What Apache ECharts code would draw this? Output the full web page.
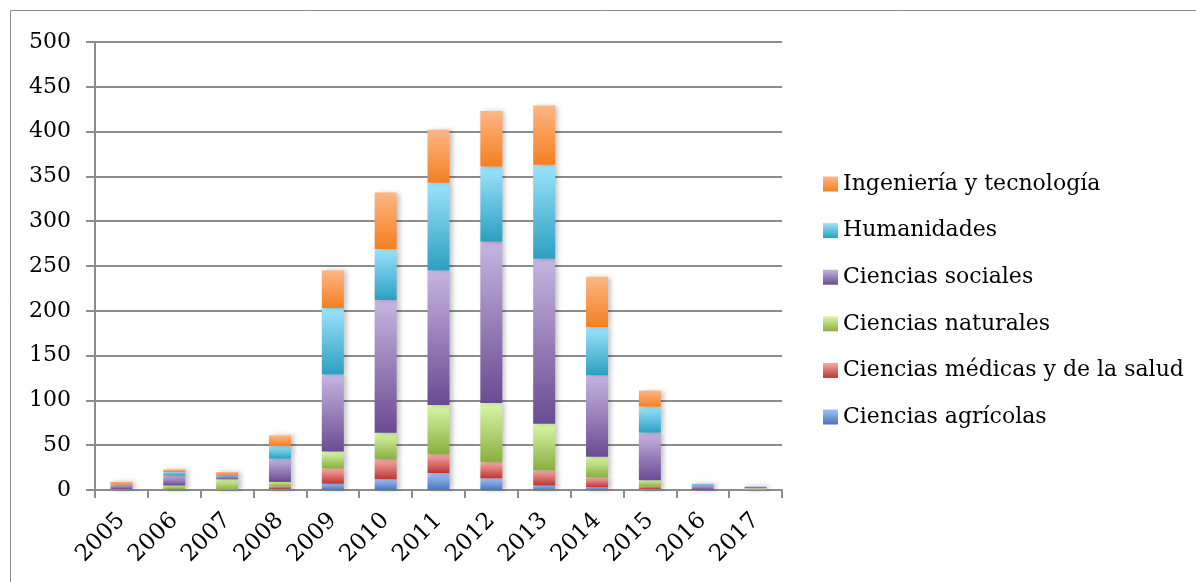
<!DOCTYPE html>
<html>
<head>
<meta charset="utf-8">
<script src="https://cdn.jsdelivr.net/npm/echarts@6/dist/echarts.min.js"></script>
<style>html,body{margin:0;padding:0;background:#fff}#c{width:1196px;height:582px}</style>
</head>
<body>
<div id="c"></div>
<script>
const years = ['2005','2006','2007','2008','2009','2010','2011','2012','2013','2014','2015','2016','2017'];
const agricolas  = [1, 0, 0, 1, 7, 12, 19, 13, 5, 3, 1, 0, 0];
const medicas    = [0, 1, 0, 3, 17, 22, 21, 18, 17, 11, 3, 0, 0];
const naturales  = [0, 4, 12, 5, 19, 30, 55, 66, 52, 23, 7, 0, 2];
const sociales   = [4, 11, 3, 26, 86, 148, 150, 180, 184, 91, 53, 5, 2];
const humanidades= [1, 4, 2, 14, 74, 57, 98, 84, 105, 54, 29, 2, 0];
const ingenieria = [3, 3, 3, 12, 42, 63, 59, 62, 66, 56, 18, 0, 0];
const yTicks = [0, 50, 100, 150, 200, 250, 300, 350, 400, 450, 500];

const FONT = 'DejaVu Serif';
function grad(top, bottom) {
  return new echarts.graphic.LinearGradient(0, 0, 0, 1, [
    {offset: 0, color: top}, {offset: 1, color: bottom}
  ]);
}
const palette = {
  'Ciencias agrícolas': ['#a3c0f5', '#4876bd'],
  'Ciencias médicas y de la salud': ['#f7aaa7', '#bb3633'],
  'Ciencias naturales': ['#daf7a8', '#88ae40'],
  'Ciencias sociales': ['#c6b5e0', '#6b4a92'],
  'Humanidades': ['#9ce3fc', '#2c9fc0'],
  'Ingeniería y tecnología': ['#fdb684', '#f47f22']
};
const seriesDefs = [
  ['Ciencias agrícolas', agricolas],
  ['Ciencias médicas y de la salud', medicas],
  ['Ciencias naturales', naturales],
  ['Ciencias sociales', sociales],
  ['Humanidades', humanidades],
  ['Ingeniería y tecnología', ingenieria]
];
const series = seriesDefs.map(([name, data]) => ({
  name, type: 'bar', stack: 'total', data, barWidth: 22,
  itemStyle: {
    color: grad(palette[name][0], palette[name][1]),
    shadowBlur: 5, shadowColor: 'rgba(0,0,0,0.25)', shadowOffsetX: 3, shadowOffsetY: 0
  }
}));

const chart = echarts.init(document.getElementById('c'), null, {renderer: 'canvas'});
chart.setOption({
  animation: false,
  backgroundColor: '#fff',
  graphic: [{
    type: 'rect', shape: {x: 10.5, y: 10.5, width: 1200, height: 600},
    style: {fill: 'none', stroke: '#8a8a8a', lineWidth: 1}, silent: true, z: -10
  }],
  grid: {left: 95, right: 414, top: 42, bottom: 92},
  legend: {
    orient: 'vertical', left: 818, top: 166,
    itemWidth: 15, itemHeight: 15, itemGap: 20.6,
    icon: 'rect',
    data: ['Ingeniería y tecnología','Humanidades','Ciencias sociales','Ciencias naturales','Ciencias médicas y de la salud','Ciencias agrícolas'],
    textStyle: {fontFamily: FONT, fontSize: 22, color: '#000', lineHeight: 26}
  },
  xAxis: {
    type: 'category', data: years,
    axisLine: {lineStyle: {color: '#8c8c8c', width: 2}},
    axisTick: {show: true, length: 8, lineStyle: {color: '#8c8c8c', width: 2}},
    axisLabel: {rotate: 45, margin: 27, fontFamily: FONT, fontSize: 23, color: '#000'}
  },
  yAxis: {
    type: 'value', min: 0, max: 500, interval: 50,
    axisLine: {show: true, lineStyle: {color: '#8c8c8c', width: 2}},
    axisTick: {show: true, length: 9, lineStyle: {color: '#8c8c8c', width: 2}},
    splitLine: {lineStyle: {color: '#8c8c8c', width: 2}},
    axisLabel: {margin: 24, fontFamily: FONT, fontSize: 22, color: '#000',
      formatter: v => yTicks.includes(v) ? String(v) : ''}
  },
  series
});
</script>
</body>
</html>
